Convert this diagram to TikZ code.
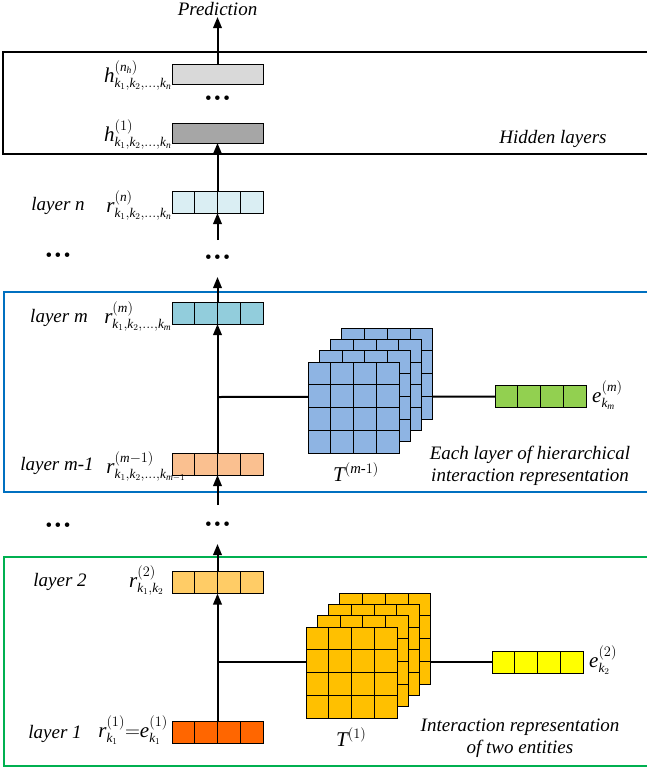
\documentclass[tikz,border=0pt]{standalone}
\usepackage{amsmath}
\usepackage{fontspec}
\setmainfont{Liberation Serif}
\usetikzlibrary{arrows.meta}
\DeclareMathSizes{19}{21}{13.3}{9.5}
\definecolor{hlight}{HTML}{D9D9D9}
\definecolor{hdark}{HTML}{A6A6A6}
\definecolor{cn}{HTML}{DAEEF3}
\definecolor{cm}{HTML}{92CDDC}
\definecolor{tblue}{HTML}{8EB4E3}
\definecolor{cgreen}{HTML}{92D050}
\definecolor{cmone}{HTML}{FAC090}
\definecolor{ctwo}{HTML}{FFCC66}
\definecolor{torange}{HTML}{FFC000}
\definecolor{cyellow}{HTML}{FFFF00}
\definecolor{cone}{HTML}{FF6600}
\definecolor{fblue}{HTML}{0070C0}
\definecolor{fgreen}{HTML}{00B050}
\newcommand\mi[1]{\mathit{#1}}
\newcommand\tensorstack[3]{%
  \foreach \k in {3,2,1,0}{%
    \pgfmathsetmacro\xx{#1+\k*11.3}%
    \pgfmathsetmacro\yy{#2-\k*11.3}%
    \filldraw[fill=#3, draw=black, line width=0.9pt] (\xx,\yy) rectangle ++(91,91);
    \foreach \i in {1,2,3}{%
      \draw[line width=0.9pt] ({\xx+\i*22.75},\yy) -- ++(0,91);
      \draw[line width=0.9pt] (\xx,{\yy+\i*22.75}) -- ++(91,0);
    }%
  }%
}
\begin{document}
\begin{tikzpicture}[x=1pt,y=-1pt,
  every node/.style={font=\fontsize{19}{22}\selectfont, inner sep=0pt},
  lab/.style={font=\fontsize{19}{22}\selectfont\itshape},
  tlab/.style={font=\fontsize{21}{24}\selectfont},
  vecbox/.style={draw=black, line width=0.9pt, minimum width=91pt, minimum height=22pt,
    inner sep=0pt, outer sep=0pt,
    path picture={\foreach \i in {1,2,3}{\draw[line width=0.9pt]
      ([xshift=\i*22.75pt]path picture bounding box.south west) --
      ([xshift=\i*22.75pt]path picture bounding box.north west);}}},
  hidbox/.style={draw=black, line width=0.9pt, minimum width=91pt, minimum height=20pt, outer sep=0pt},
  arr/.style={line width=2pt, -{Triangle[length=11pt,width=8.5pt]}},
  conn/.style={line width=2pt},
  frame/.style={line width=1.6pt},
  dots/.style={font=\fontsize{19}{19}\selectfont}]
\useasboundingbox (0,0) rectangle (647,772);

% frames
\draw[frame, black] (3,52) rectangle (660,154);
\draw[frame, fblue] (4,292) rectangle (660,492);
\draw[frame, fgreen] (4,557) rectangle (660,766);

% hidden layers
\node[hidbox, fill=hlight] (hn) at (217.5,74) {};
\node[hidbox, fill=hdark] (h1) at (217.5,133) {};
\node[dots] (dh) at (217.5,100) {•\hspace{2.5pt}•\hspace{2.5pt}•};
\node[anchor=base east] (hnl) at (172,82) {$\mi{h}^{(\mi{n}_{\mi{h}})}_{\mi{k}_1,\mi{k}_2,\ldots,\mi{k}_{\mi{n}}}$};
\node[anchor=base east] (h1l) at (172,141) {$\mi{h}^{(1)}_{\mi{k}_1,\mi{k}_2,\ldots,\mi{k}_{\mi{n}}}$};
\node[lab, anchor=base] (hidt) at (553,143) {Hidden layers};
\node[lab, anchor=base] (pred) at (217.5,15) {Prediction};
\coordinate (predtip) at (217.5,17);

% layer n
\node[vecbox, fill=cn] (ln) at (217.5,202) {};
\node[lab, anchor=base] (lnt) at (58,210) {layer n};
\node[anchor=base east] (lnl) at (172,212) {$\mi{r}^{(\mi{n})}_{\mi{k}_1,\mi{k}_2,\ldots,\mi{k}_{\mi{n}}}$};
\coordinate (c3) at (217.5,240);
\node[dots] (dl1) at (58,257) {•\hspace{2.5pt}•\hspace{2.5pt}•};
\node[dots] (dm1) at (217.5,259) {•\hspace{2.5pt}•\hspace{2.5pt}•};
\coordinate (c4) at (217.5,277);

% layer m
\node[vecbox, fill=cm] (lm) at (217.5,313) {};
\node[lab, anchor=base] (lmt) at (59,322) {layer m};
\node[anchor=base east] (lml) at (172,323) {$\mi{r}^{(\mi{m})}_{\mi{k}_1,\mi{k}_2,\ldots,\mi{k}_{\mi{m}}}$};
\node[vecbox, fill=cmone] (lm1) at (217.5,464) {};
\node[lab, anchor=base] (lm1t) at (57,470) {layer m-1};
\node[anchor=base east] (lm1l) at (186,473) {$\mi{r}^{(\mi{m}-1)}_{\mi{k}_1,\mi{k}_2,\ldots,\mi{k}_{\mi{m}-1}}$};
\node[vecbox, fill=cgreen] (em) at (540.5,396.5) {};
\node[anchor=base west] (eml) at (592,402) {$\mi{e}^{(\mi{m})}_{\mi{k}_{\mi{m}}}$};
\coordinate (bm) at (217.5,397);
\draw[conn] (bm) -- (em.west);
\tensorstack{308}{362}{tblue}
\node[tlab, anchor=base west] (tml) at (333,481) {$\mi{T}^{(\mi{m}\text{-}1)}$};
\node[lab, align=center] (eacht) at (530,466) {Each layer of hierarchical\\interaction representation};
\coordinate (c6) at (217.5,505);
\node[dots] (dl2) at (58,527) {•\hspace{2.5pt}•\hspace{2.5pt}•};
\node[dots] (dm2) at (217.5,526) {•\hspace{2.5pt}•\hspace{2.5pt}•};
\coordinate (c7) at (217.5,544);

% layer 2 / layer 1
\node[vecbox, fill=ctwo] (l2) at (217.5,582.5) {};
\node[lab, anchor=base] (l2t) at (60,586) {layer 2};
\node[anchor=base east] (l2l) at (164,587) {$\mi{r}^{(2)}_{\mi{k}_1,\mi{k}_2}$};
\node[vecbox, fill=cone] (l1) at (217.5,732) {};
\node[lab, anchor=base] (l1t) at (55,738) {layer 1};
\node[anchor=base east] (l1l) at (168,737) {$\mi{r}^{(1)}_{\mi{k}_1}{=}\mi{e}^{(1)}_{\mi{k}_1}$};
\node[vecbox, fill=cyellow] (e2) at (537.5,662) {};
\node[anchor=base west] (e2l) at (589,667) {$\mi{e}^{(2)}_{\mi{k}_2}$};
\coordinate (b2) at (217.5,662);
\draw[conn] (b2) -- (e2.west);
\tensorstack{306}{627}{torange}
\node[tlab, anchor=base west] (t1l) at (336,746) {$\mi{T}^{(1)}$};
\node[lab, align=center] (intt) at (520,738) {Interaction representation\\of two entities};

% arrows
\draw[arr] (hn.north) -- (predtip);
\draw[arr] (ln.north) -- (h1.south);
\draw[arr] (c3) -- (ln.south);
\draw[arr] (lm.north) -- (c4);
\draw[arr] (lm1.north) -- (lm.south);
\draw[arr] (c6) -- (lm1.south);
\draw[arr] (l2.north) -- (c7);
\draw[arr] (l1.north) -- (l2.south);
\end{tikzpicture}
\end{document}
